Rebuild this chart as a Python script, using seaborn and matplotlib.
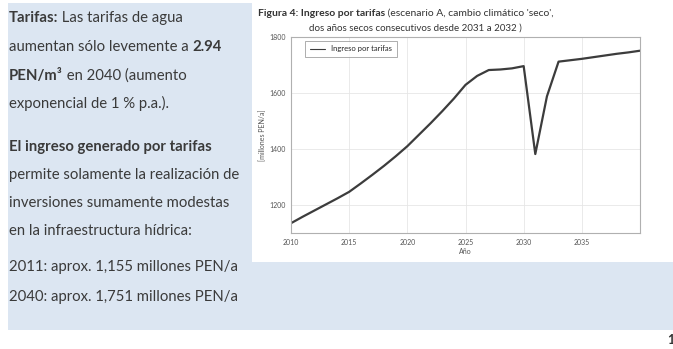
import pandas as pd
import matplotlib.pyplot as plt
import seaborn as sns
from matplotlib.patches import Rectangle

# Data (millones PEN/a)
years = list(range(2010, 2041))
ingreso = [1135, 1158, 1180, 1202, 1224, 1247, 1277, 1308, 1340, 1374,
           1410, 1451, 1492, 1535, 1580, 1629, 1661, 1682, 1684, 1688,
           1696, 1382, 1588, 1712, 1717, 1722, 1728, 1734, 1740, 1745, 1751]
x_ticks = [2010, 2015, 2020, 2025, 2030, 2035]
y_ticks = [1200, 1400, 1600, 1800]

# Left side text: each line is a list of (text, bold) pieces
left_lines = [
    [("Tarifas:", True), (" Las tarifas de agua", False)],
    [("aumentan sólo levemente a ", False), ("2.94", True)],
    [("PEN/m³", True), (" en 2040 (aumento", False)],
    [("exponencial de 1 % p.a.).", False)],
    [("El ingreso generado por tarifas", True)],
    [("permite solamente la realización de", False)],
    [("inversiones sumamente modestas", False)],
    [("en la infraestructura hídrica:", False)],
    [("2011: aprox. 1,155 millones PEN/a", False)],
    [("2040: aprox. 1,751 millones PEN/a", False)],
]
left_y = [18, 47, 76, 104, 147, 175, 203, 231, 267, 297]

df = pd.DataFrame({"Año": years, "Ingreso por tarifas": ingreso})

sns.set_theme(style="whitegrid")
plt.rcParams["font.family"] = ["Lato", "DejaVu Sans"]

W, H = 673, 349
fig = plt.figure(figsize=(W / 100, H / 100), dpi=100)
fig.patch.set_facecolor("white")

# slide background panels
fig.patches.append(Rectangle((8 / W, 1 - 330 / H), (W - 8) / W, 327 / H,
                             transform=fig.transFigure, facecolor="#dce6f2",
                             edgecolor="none", zorder=-2))
fig.patches.append(Rectangle((252 / W, 1 - 262 / H), (W - 252) / W, 262 / H,
                             transform=fig.transFigure, facecolor="white",
                             edgecolor="none", zorder=-1))

ax = fig.add_axes([291 / W, 1 - 233 / H, (640 - 291) / W, (233 - 37) / H])
sns.lineplot(data=df, x="Año", y="Ingreso por tarifas", ax=ax, color="#3c3c3c",
             linewidth=1.6, label="Ingreso por tarifas")

ax.set_xlim(2010, 2040)
ax.set_ylim(1100, 1800)
ax.set_xticks(x_ticks)
ax.set_yticks(y_ticks)
ax.tick_params(labelsize=5, colors="#555555", length=2, pad=2)
ax.set_xlabel("Año", fontsize=5, color="#555555", labelpad=2)
ax.set_ylabel("[millones PEN/a]", fontsize=5, color="#555555", labelpad=2)
ax.grid(True, color="#e6e6e6", linewidth=0.6)
for s in ax.spines.values():
    s.set_color("#b0b0b0")
    s.set_linewidth(0.8)
leg = ax.legend(loc="upper left", fontsize=5.5, frameon=True, fancybox=False,
                borderpad=0.6, handlelength=2.0, bbox_to_anchor=(0.03, 1.0))
leg.get_frame().set_edgecolor("#888888")
leg.get_frame().set_linewidth(0.6)
for line in leg.get_lines():
    line.set_linewidth(0.8)

renderer = fig.canvas.get_renderer()


def draw_pieces(x, y, pieces, size, color):
    for txt, bold in pieces:
        t = fig.text(x / W, 1 - y / H, txt, fontsize=size, color=color,
                     fontweight="bold" if bold else "normal", va="baseline")
        x = x + t.get_window_extent(renderer).width


for pieces, y in zip(left_lines, left_y):
    draw_pieces(9, y + 4, pieces, 10.7, "#3a3a3a")

# chart caption
draw_pieces(258, 16, [("Figura 4: Ingreso por tarifas", True),
                      (" (escenario A, cambio climático 'seco',", False)],
            7.5, "#333333")
fig.text(415 / W, 1 - 31 / H, "dos años secos consecutivos desde 2031 a 2032 )",
         fontsize=7, color="#333333", ha="center", va="baseline")

# page number
fig.text(667 / W, 1 - 344 / H, "1", fontsize=9, color="#333333",
         fontweight="bold", va="baseline")

plt.savefig("out.png", dpi=100)
